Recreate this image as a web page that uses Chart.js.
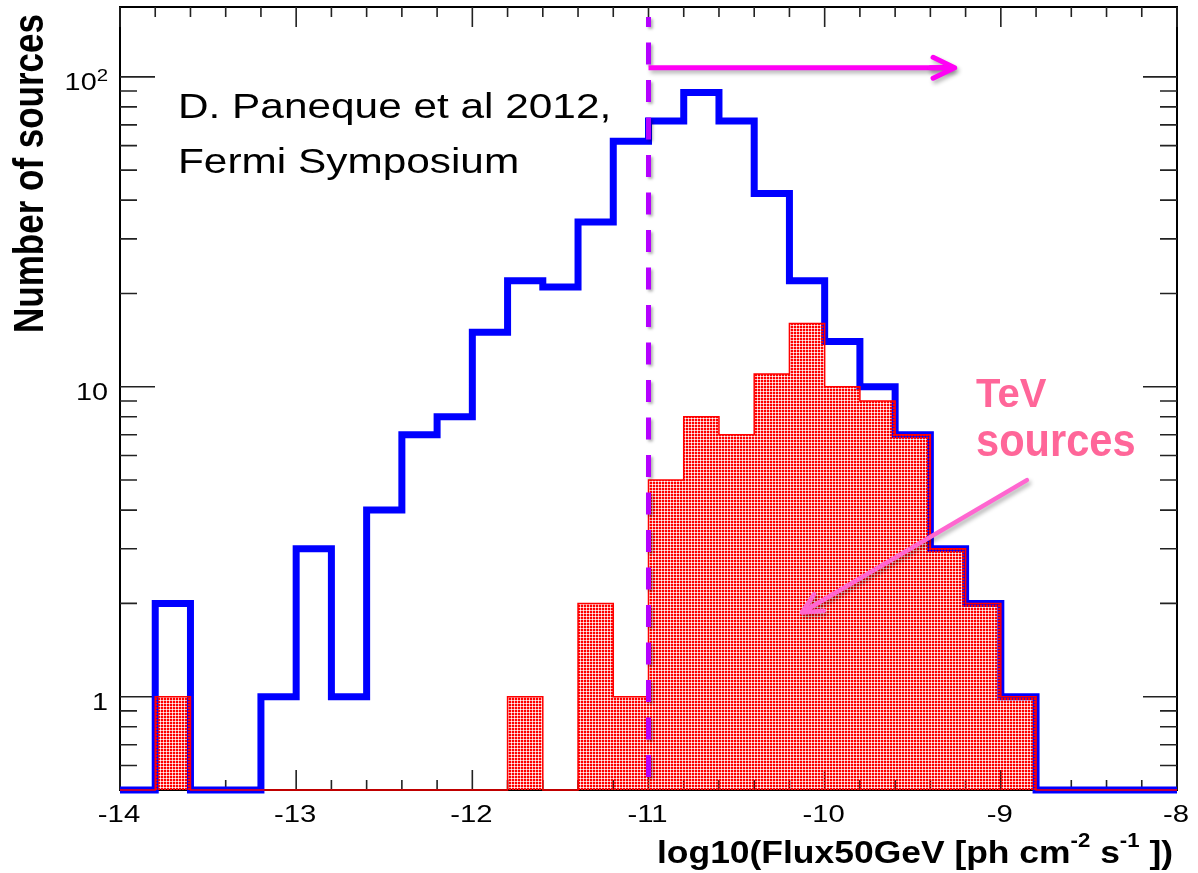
<!DOCTYPE html>
<html>
<head>
<meta charset="utf-8">
<script src="https://cdn.jsdelivr.net/npm/chart.js@4.4.0/dist/chart.umd.min.js"></script>
<style>
  html, body { margin: 0; padding: 0; background: #ffffff; }
  #wrap { width: 1198px; height: 873px; }
</style>
</head>
<body>
<div id="wrap"><canvas id="c" width="1198" height="873"></canvas></div>
<script>
// Bin edges of log10(Flux50GeV), 0.2 wide, from -14 to -8
const binEdges = [-14.0, -13.8, -13.6, -13.4, -13.2, -13.0, -12.8, -12.6, -12.4, -12.2,
                  -12.0, -11.8, -11.6, -11.4, -11.2, -11.0, -10.8, -10.6, -10.4, -10.2,
                  -10.0, -9.8, -9.6, -9.4, -9.2, -9.0, -8.8, -8.6, -8.4, -8.2, -8.0];

// Counts per bin: all sources (blue) and TeV-detected sources (red)
const allSources = [0, 2, 0, 0, 1, 3, 1, 4, 7, 8,
                    15, 22, 21, 34, 62, 72, 89, 72, 42, 22,
                    14, 10, 7, 3, 2, 1, 0, 0, 0, 0];
const tevSources = [0, 1, 0, 0, 0, 0, 0, 0, 0, 0,
                    0, 1, 0, 2, 1, 5, 8, 7, 11, 16,
                    10, 9, 7, 3, 2, 1, 0, 0, 0, 0];

// Axis ticks
const xTickValues = [-14, -13, -12, -11, -10, -9, -8];
const xTickLabels = ['-14', '-13', '-12', '-11', '-10', '-9', '-8'];
const yTickValues = [1, 10, 100];
const yTickLabels = ['1', '10', '10'];
const yTickExponents = ['', '', '2'];

// Axis ranges
const xMin = -14, xMax = -8;
const yMin = 0.5, yMax = 168;

// Flux threshold marked by the dashed line
const fluxCut = -11;

const FONT = '"Liberation Sans", Arial, Helvetica, sans-serif';

// Histogram outline: one point at each lower edge, plus the closing upper edge.
// Empty bins sit on the bottom of the log axis.
function histPoints(counts) {
  const pts = counts.map((v, i) => ({ x: binEdges[i], y: v > 0 ? v : yMin }));
  const last = counts[counts.length - 1];
  pts.push({ x: binEdges[binEdges.length - 1], y: last > 0 ? last : yMin });
  return pts;
}

const canvas = document.getElementById('c');
const ctx = canvas.getContext('2d');

// Fine red dot-pattern fill for the TeV histogram
function makeDotPattern() {
  const t = document.createElement('canvas');
  t.width = 3; t.height = 3;
  const g = t.getContext('2d');
  const img = g.createImageData(3, 3);
  const a = [1, 0.3, 1, 0.3, 0, 0.3, 1, 0.3, 1];
  for (let i = 0; i < 9; i++) {
    img.data[i * 4] = 255;
    img.data[i * 4 + 1] = 0;
    img.data[i * 4 + 2] = 0;
    img.data[i * 4 + 3] = Math.round(a[i] * 255);
  }
  g.putImageData(img, 0, 0);
  return ctx.createPattern(t, 'repeat');
}

// Text drawn with a horizontal stretch factor
function stretchedText(c, str, x, y, font, hs, align) {
  c.save();
  c.font = font;
  c.textAlign = align || 'left';
  c.textBaseline = 'alphabetic';
  c.translate(x, y);
  c.scale(hs, 1);
  c.fillText(str, 0, 0);
  c.restore();
}

// Frame, inward tick marks and tick labels
const framePlugin = {
  id: 'frame',
  beforeDatasetsDraw(chart) {
    const { ctx, chartArea: a, scales: { x, y } } = chart;
    ctx.save();
    ctx.strokeStyle = '#000';
    ctx.lineWidth = 2;
    ctx.strokeRect(a.left, a.top, a.right - a.left, a.bottom - a.top);

    ctx.strokeStyle = '#222';
    ctx.lineWidth = 1.6;
    ctx.beginPath();
    binEdges.forEach(v => {
      const px = x.getPixelForValue(v);
      const major = Math.abs(v - Math.round(v)) < 1e-6;
      const len = major ? 20 : 10;
      ctx.moveTo(px, a.bottom); ctx.lineTo(px, a.bottom - len);
      ctx.moveTo(px, a.top); ctx.lineTo(px, a.top + len);
    });
    const yMinor = [];
    [0.1, 1, 10, 100].forEach(d => {
      for (let k = 2; k <= 9; k++) {
        const v = k * d;
        if (v >= yMin && v <= yMax) yMinor.push(v);
      }
    });
    yMinor.forEach(v => {
      const py = y.getPixelForValue(v);
      ctx.moveTo(a.left, py); ctx.lineTo(a.left + 17, py);
      ctx.moveTo(a.right, py); ctx.lineTo(a.right - 17, py);
    });
    yTickValues.forEach(v => {
      const py = y.getPixelForValue(v);
      ctx.moveTo(a.left, py); ctx.lineTo(a.left + 35, py);
      ctx.moveTo(a.right, py); ctx.lineTo(a.right - 34, py);
    });
    ctx.stroke();

    // Tick labels
    ctx.fillStyle = '#000';
    const tickFont = '24px ' + FONT;
    xTickValues.forEach((v, i) => {
      stretchedText(ctx, xTickLabels[i], x.getPixelForValue(v) - 1, a.bottom + 32, tickFont, 1.22, 'center');
    });
    yTickValues.forEach((v, i) => {
      const py = y.getPixelForValue(v) + 13;
      const exp = yTickExponents[i];
      let right = 108;
      if (exp) {
        stretchedText(ctx, exp, right, py - 9, '17px ' + FONT, 1.2, 'right');
        ctx.font = '17px ' + FONT;
        right -= ctx.measureText(exp).width * 1.2;
      }
      stretchedText(ctx, yTickLabels[i], right, py, tickFont, 1.2, 'right');
    });
    ctx.restore();
  },
  afterDatasetsDraw(chart) {
    const { ctx, chartArea: a, scales: { x, y } } = chart;
    ctx.save();

    // Dashed threshold line
    const xc = x.getPixelForValue(fluxCut);
    ctx.save();
    ctx.shadowColor = 'rgba(0,0,0,0.3)';
    ctx.shadowBlur = 3; ctx.shadowOffsetX = 2; ctx.shadowOffsetY = 2;
    ctx.strokeStyle = '#b400ff';
    ctx.lineWidth = 5;
    ctx.setLineDash([22, 15.5]);
    ctx.lineDashOffset = 12;
    ctx.beginPath();
    ctx.moveTo(xc, 17); ctx.lineTo(xc, a.bottom);
    ctx.stroke();
    ctx.restore();

    function arrow(x0, y0, x1, y1, color, w, head) {
      ctx.save();
      ctx.shadowColor = 'rgba(0,0,0,0.3)';
      ctx.shadowBlur = 4; ctx.shadowOffsetX = 2; ctx.shadowOffsetY = 3;
      ctx.strokeStyle = color;
      ctx.lineWidth = w;
      ctx.lineCap = 'round';
      ctx.lineJoin = 'round';
      const ang = Math.atan2(y1 - y0, x1 - x0);
      ctx.beginPath();
      ctx.moveTo(x0, y0); ctx.lineTo(x1, y1);
      ctx.moveTo(x1 - head * Math.cos(ang - 0.45), y1 - head * Math.sin(ang - 0.45));
      ctx.lineTo(x1, y1);
      ctx.lineTo(x1 - head * Math.cos(ang + 0.45), y1 - head * Math.sin(ang + 0.45));
      ctx.stroke();
      ctx.restore();
    }

    // Arrow pointing toward higher fluxes
    const ya = y.getPixelForValue(107);
    ctx.save();
    ctx.shadowColor = 'rgba(0,0,0,0.3)';
    ctx.shadowBlur = 4; ctx.shadowOffsetX = 2; ctx.shadowOffsetY = 3;
    ctx.strokeStyle = '#ff00f5';
    ctx.lineWidth = 5;
    ctx.beginPath();
    ctx.moveTo(xc, ya); ctx.lineTo(x.getPixelForValue(-9.27), ya);
    ctx.stroke();
    ctx.restore();
    arrow(x.getPixelForValue(-9.4), ya, x.getPixelForValue(-9.262), ya, '#ff00f5', 5, 24);

    // Arrow from the "TeV sources" label into the red histogram
    arrow(x.getPixelForValue(-8.852), y.getPixelForValue(5.0),
          x.getPixelForValue(-10.129), y.getPixelForValue(1.87), '#ff66d0', 4.5, 22);

    // Text annotations
    ctx.fillStyle = '#000';
    const noteFont = '35px ' + FONT;
    stretchedText(ctx, 'D. Paneque et al 2012,', 178, 118, noteFont, 1.21, 'left');
    stretchedText(ctx, 'Fermi Symposium', 178, 173, noteFont, 1.21, 'left');

    ctx.fillStyle = '#ff6699';
    ctx.font = 'bold 40px ' + FONT;
    ctx.textAlign = 'left';
    ctx.fillText('TeV', 976, 407);
    ctx.save();
    ctx.translate(976, 456);
    ctx.scale(1.04, 1.15);
    ctx.fillText('sources', 0, 0);
    ctx.restore();

    // Y axis title
    ctx.fillStyle = '#000';
    ctx.save();
    ctx.font = 'bold 35px ' + FONT;
    ctx.translate(43, 14);
    ctx.rotate(-Math.PI / 2);
    ctx.scale(1, 1.2);
    ctx.textAlign = 'right';
    ctx.fillText('Number of sources', 0, 0);
    ctx.restore();

    // X axis title with superscripts
    const parts = [
      { t: 'log10(Flux50GeV [ph cm', sup: false },
      { t: '-2', sup: true },
      { t: ' s', sup: false },
      { t: '-1', sup: true },
      { t: ' ])', sup: false }
    ];
    const mainFont = 'bold 32px ' + FONT;
    const supFont = 'bold 20px ' + FONT;
    let total = 0;
    parts.forEach(p => { ctx.font = p.sup ? supFont : mainFont; p.w = ctx.measureText(p.t).width; total += p.w; });
    const hs = 516 / total;
    let cx = 1173 - total * hs;
    parts.forEach(p => {
      stretchedText(ctx, p.t, cx, p.sup ? 847 : 863, p.sup ? supFont : mainFont, hs, 'left');
      cx += p.w * hs;
    });

    ctx.restore();
  }
};

const dots = makeDotPattern();

new Chart(ctx, {
  type: 'line',
  data: {
    datasets: [
      {
        label: 'TeV sources',
        data: histPoints(tevSources),
        stepped: true,
        borderColor: '#ff0000',
        borderWidth: 1.5,
        backgroundColor: dots,
        fill: 'start',
        pointRadius: 0,
        order: 1,
        clip: 10
      },
      {
        label: 'All sources',
        data: histPoints(allSources),
        stepped: true,
        borderColor: '#0000ff',
        borderWidth: 7,
        borderJoinStyle: 'miter',
        borderCapStyle: 'butt',
        fill: false,
        pointRadius: 0,
        order: 2,
        clip: 10
      }
    ]
  },
  options: {
    responsive: false,
    animation: false,
    devicePixelRatio: 1,
    layout: { padding: { top: 7, right: 21, left: 0, bottom: 0 } },
    plugins: { legend: { display: false }, tooltip: { enabled: false } },
    scales: {
      x: {
        type: 'linear',
        min: xMin, max: xMax,
        grid: { display: false, drawTicks: false },
        border: { display: false },
        afterBuildTicks: s => { s.ticks = xTickValues.map(v => ({ value: v })); },
        ticks: { display: false },
        afterFit: s => { s.height = 83; s.paddingLeft = 0; s.paddingRight = 0; }
      },
      y: {
        type: 'logarithmic',
        min: yMin, max: yMax,
        grid: { display: false, drawTicks: false },
        border: { display: false },
        afterBuildTicks: s => { s.ticks = yTickValues.map(v => ({ value: v })); },
        ticks: { display: false },
        afterFit: s => { s.width = 120; s.paddingTop = 0; s.paddingBottom = 0; }
      }
    }
  },
  plugins: [framePlugin]
});
</script>
</body>
</html>
